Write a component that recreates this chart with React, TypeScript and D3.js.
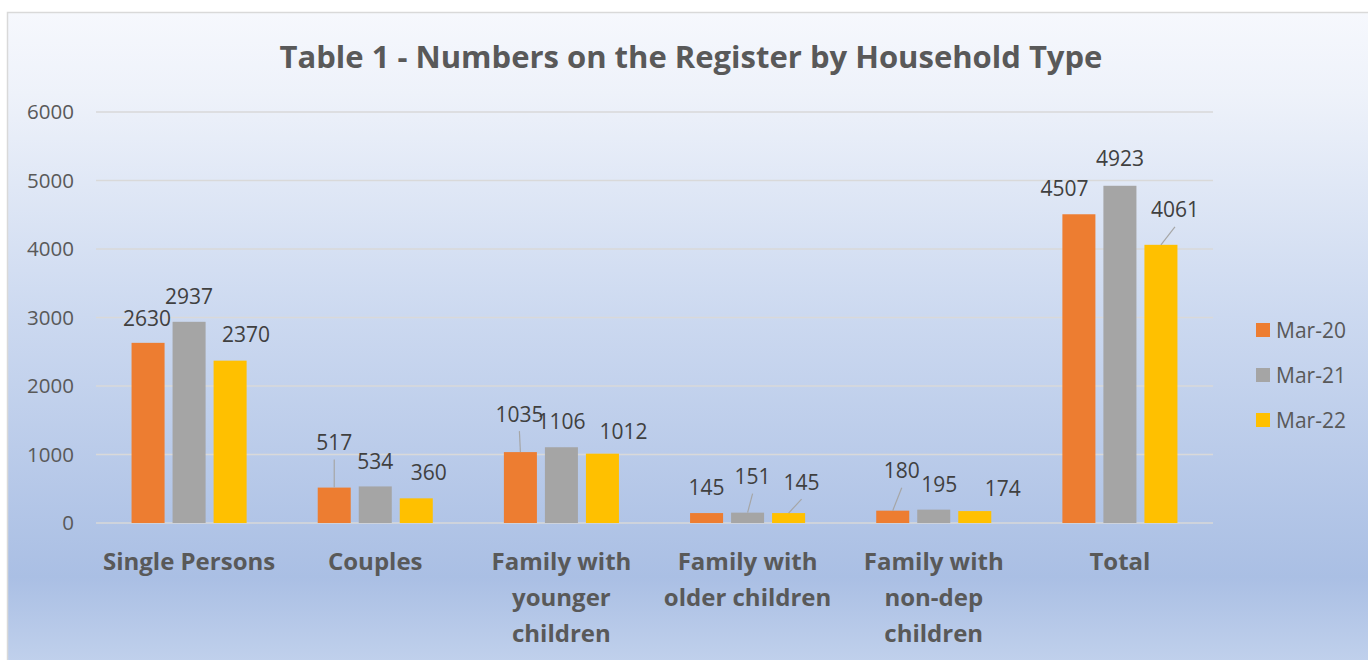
import React from 'react';
import * as d3 from 'd3';

// ---- data ----
const categories = [
  'Single Persons',
  'Couples',
  'Family with younger children',
  'Family with older children',
  'Family with non-dep children',
  'Total',
];
const categoryLines = [
  ['Single Persons'],
  ['Couples'],
  ['Family with', 'younger', 'children'],
  ['Family with', 'older children'],
  ['Family with', 'non-dep', 'children'],
  ['Total'],
];
const seriesNames = ['Mar-20', 'Mar-21', 'Mar-22'];
const mar20 = [2630, 517, 1035, 145, 180, 4507];
const mar21 = [2937, 534, 1106, 151, 195, 4923];
const mar22 = [2370, 360, 1012, 145, 174, 4061];
const yTicks = [0, 1000, 2000, 3000, 4000, 5000, 6000];
const title = 'Table 1 - Numbers on the Register by Household Type';

// ---- layout / style (not data) ----
const seriesColors = ['#ED7D31', '#A5A5A5', '#FFC000'];
// label nudges [dx, dy, leader] relative to default position, per series per category
const labelNudge: [number, number, boolean][][] = [
  [[-1, 0, false], [0, -21, true], [-1, -14, true], [0, -2, false], [9, -16, true], [-14.5, -2, false]],
  [[0, -1, false], [0, -1, false], [0, -2, false], [5, -12, true], [5.5, -1, false], [0, -3, false]],
  [[16, -2, false], [12.5, -2, false], [21, 2, false], [13, -7, true], [28, 1, false], [14, -11, true]],
];

const W = 1368;
const H = 660;
const plot = { left: 96, right: 1213, top: 112, bottom: 523 };
const FONT = '"Open Sans", "Noto Sans", sans-serif';

export default function App() {
  const values = [mar20, mar21, mar22];
  const x0 = d3.scaleBand<string>().domain(categories).range([plot.left, plot.right]).paddingInner(0).paddingOuter(0);
  const groupW = x0.bandwidth() * 0.618;
  const x1 = d3
    .scaleBand<string>()
    .domain(seriesNames)
    .range([-groupW / 2, groupW / 2])
    .paddingInner(8 / 41)
    .paddingOuter(0);
  const y = d3.scaleLinear().domain([0, 6000]).range([plot.bottom, plot.top]);

  return (
    <svg
      width={W}
      height={H}
      style={{ position: 'absolute', left: 0, top: 0, display: 'block' }}
      fontFamily={FONT}
    >
      <defs>
        <linearGradient id="bg" x1="0" y1="0" x2="0" y2="1">
          <stop offset="0" stopColor="#F6F8FD" />
          <stop offset="0.12" stopColor="#EEF2FA" />
          <stop offset="0.45" stopColor="#CCD9F0" />
          <stop offset="0.84" stopColor="#AABFE4" />
          <stop offset="1" stopColor="#C6D5EE" />
        </linearGradient>
      </defs>
      <rect x={0} y={0} width={W} height={H} fill="#ffffff" />
      <rect x={7.5} y={12.5} width={W} height={672} fill="url(#bg)" stroke="#D9D9D9" strokeWidth={1.5} />

      <text x={691} y={57} textAnchor="middle" dy="0.35em" fontSize={31} fontWeight="bold" fill="#595959">
        {title}
      </text>

      {/* gridlines */}
      {yTicks.map((t) => (
        <line key={'g' + t} x1={plot.left} x2={plot.right} y1={y(t)} y2={y(t)} stroke="#D9D9D9" strokeWidth={1.5} />
      ))}
      {/* y labels */}
      {yTicks.map((t) => (
        <text key={'y' + t} x={74} y={y(t)} dy="0.36em" textAnchor="end" fontSize={20.5} fill="#595959">
          {t}
        </text>
      ))}

      {/* bars */}
      {values.map((vals, s) =>
        vals.map((v, i) => {
          const cx = (x0(categories[i]) as number) + x0.bandwidth() / 2;
          const bx = cx + (x1(seriesNames[s]) as number);
          return (
            <rect
              key={`b${s}-${i}`}
              x={bx}
              y={y(v)}
              width={x1.bandwidth()}
              height={y(0) - y(v)}
              fill={seriesColors[s]}
            />
          );
        })
      )}

      {/* leader lines & data labels */}
      {values.map((vals, s) =>
        vals.map((v, i) => {
          const cx = (x0(categories[i]) as number) + x0.bandwidth() / 2;
          const bc = cx + (x1(seriesNames[s]) as number) + x1.bandwidth() / 2;
          const top = y(v);
          const [dx, dy, leader] = labelNudge[s][i];
          const lx = bc + dx;
          const ly = top - 24 + dy;
          return (
            <g key={`l${s}-${i}`}>
              {leader && <line x1={lx} y1={ly + 17} x2={bc} y2={top} stroke="#A6A6A6" strokeWidth={1.2} />}
              <text x={lx} y={ly} dy="0.36em" textAnchor="middle" fontSize={21} fill="#404040">
                {v}
              </text>
            </g>
          );
        })
      )}

      {/* category labels */}
      {categoryLines.map((lines, i) => {
        const cx = (x0(categories[i]) as number) + x0.bandwidth() / 2;
        return (
          <text key={'c' + i} textAnchor="middle" fontSize={24} fontWeight="bold" fill="#595959">
            {lines.map((ln, j) => (
              <tspan key={j} x={cx} y={561 + j * 36} dy="0.36em">
                {ln}
              </tspan>
            ))}
          </text>
        );
      })}

      {/* legend */}
      {seriesNames.map((n, s) => (
        <g key={'lg' + s} transform={`translate(1256, ${330 + s * 45})`}>
          <rect x={0} y={-7} width={14} height={14} fill={seriesColors[s]} />
          <text x={20} y={0} dy="0.36em" fontSize={21} fill="#595959">
            {n}
          </text>
        </g>
      ))}
    </svg>
  );
}
